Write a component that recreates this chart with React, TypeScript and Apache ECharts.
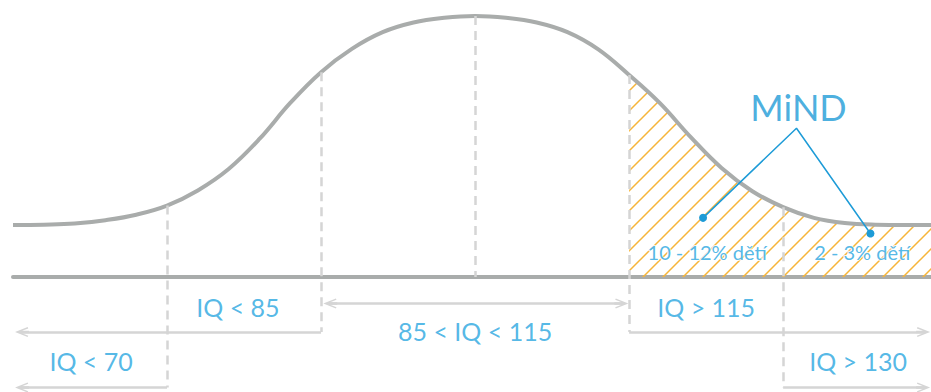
import React, { useEffect, useRef } from "react";
import * as echarts from "echarts";

// ---- Data ----
// Bell-shaped curve: IQ on x, relative height (peak = 100) on y
const curveIQ = [55, 58, 61, 64, 67, 70, 73, 76, 79, 82, 85, 88, 91, 94, 97, 100,
  103, 106, 109, 112, 115, 118, 121, 124, 127, 130, 133, 136, 139, 142, 144.4];
const curveLevel = [20.0, 20.1, 20.5, 21.8, 23.9, 27.4, 33.2, 41.4, 52.9, 66.7, 78.5, 87.4, 93.8, 97.5, 99.3, 100,
  99.3, 97.5, 93.8, 87.2, 77.4, 66.6, 53.6, 41.8, 32.9, 26.8, 22.7, 20.7, 20.1, 20.0, 20.0];
const hatchFromIQ = 115;

// Dashed guide lines (IQ thresholds) and how far below the baseline they reach
const guideIQ = [70, 85, 100, 115, 130];
const guideBottom = [-42.3, -21.06, 0, -21.06, -42.3];

// Range brackets (horizontal arrows)
const bracketFrom = [85, 70, 85.9, 115, 130];
const bracketTo = [55.88, 55.88, 114.25, 143.63, 143.63];
const bracketLevel = [-21.06, -42.3, -10.1, -21.06, -42.3];
const bracketBothEnds = [false, false, true, false, false];

// Range labels
const rangeNames = ["IQ < 70", "IQ < 85", "85 < IQ < 115", "IQ > 115", "IQ > 130"];
const rangeIQ = [62.6, 76.9, 100, 122.5, 137.3];
const rangeLevel = [-32.0, -11.3, -20.5, -11.5, -32.0];

// Share labels inside the hatched area
const shareNames = ["10 - 12% dětí", "2 - 3% dětí"];
const shareIQ = [122.6, 137.7];
const shareLevel = [9.8, 9.8];

// MiND callout
const calloutName = "MiND";
const calloutIQ = [131.5];
const calloutLevel = [65.0];
const pointerIQ = [122.2, 131.3, 138.5];
const pointerLevel = [22.7, 57.0, 16.7];

const GRAY = "#a9acab";
const LIGHT = "#d5d5d5";
const BLUE = "#29a6df";
const DARK_BLUE = "#1d9bd7";
const HATCH = "#f6b53a";
const FONT = "Lato";

const ARROW = "path://M5,0 L10,12.6 L8.7,13.2 L6.25,7 L6.25,14 L3.75,14 L3.75,7 L1.3,13.2 L0,12.6 Z";

function makeHatch(): HTMLCanvasElement {
  const t = 20;
  const c = document.createElement("canvas");
  c.width = t;
  c.height = t;
  const ctx = c.getContext("2d");
  if (ctx) {
    ctx.strokeStyle = HATCH;
    ctx.lineWidth = 1.5;
    ctx.beginPath();
    ctx.moveTo(-2, t + 2);
    ctx.lineTo(t + 2, -2);
    ctx.moveTo(-2, 2);
    ctx.lineTo(2, -2);
    ctx.moveTo(t - 2, t + 2);
    ctx.lineTo(t + 2, t - 2);
    ctx.stroke();
  }
  return c;
}

export default function App() {
  const ref = useRef<HTMLDivElement>(null);

  useEffect(() => {
    if (!ref.current) return;
    const chart = echarts.init(ref.current, null, { renderer: "svg" });

    const curveData = curveIQ.map((x, i) => [x, curveLevel[i]]);
    const hatchData = curveData.filter((p) => p[0] >= hatchFromIQ);
    const levelAt = (iq: number) => curveLevel[curveIQ.indexOf(iq)];

    const guideLines = guideIQ.map((iq, i) => [
      { coord: [iq, levelAt(iq)], symbol: "none" },
      { coord: [iq, guideBottom[i]], symbol: "none" },
    ]);
    const bracketLines = bracketFrom.map((from, i) => [
      {
        coord: [from, bracketLevel[i]],
        symbol: bracketBothEnds[i] ? ARROW : "none",
        lineStyle: { type: "solid", color: LIGHT, width: 2.5 },
      },
      { coord: [bracketTo[i], bracketLevel[i]], symbol: ARROW },
    ]);

    const textLabel = (size: number, color: string, border: boolean) => ({
      show: true,
      position: "inside",
      formatter: (p: any) => p.name,
      color,
      fontFamily: FONT,
      fontSize: size,
      fontWeight: "normal",
      align: "center",
      verticalAlign: "middle",
      ...(border ? { textBorderColor: "#ffffff", textBorderWidth: 2 } : {}),
    });

    chart.setOption({
      animation: false,
      grid: { left: 13, right: 0, top: 16, bottom: 0 },
      xAxis: {
        type: "value",
        min: 55,
        max: 144.4,
        axisLine: { show: true, onZero: true, lineStyle: { color: GRAY, width: 4 } },
        axisTick: { show: false },
        axisLabel: { show: false },
        splitLine: { show: false },
      },
      yAxis: { type: "value", min: -44, max: 100, show: false, splitLine: { show: false } },
      series: [
        {
          type: "line",
          name: "hatch",
          data: hatchData,
          smooth: 0.4,
          showSymbol: false,
          clip: false,
          lineStyle: { width: 0, opacity: 0 },
          areaStyle: { color: { image: makeHatch(), repeat: "repeat" }, opacity: 1, origin: 0 },
          z: 1,
          silent: true,
        },
        {
          type: "line",
          name: "guides",
          data: [],
          z: 2,
          silent: true,
          markLine: {
            silent: true,
            symbol: ["none", "none"],
            symbolSize: [10, 14],
            label: { show: false },
            lineStyle: { type: [9, 6], color: LIGHT, width: 2.5 },
            emphasis: { disabled: true },
            data: [...guideLines, ...bracketLines],
          },
        },
        {
          type: "line",
          name: "curve",
          data: curveData,
          smooth: 0.4,
          showSymbol: false,
          clip: false,
          lineStyle: { color: GRAY, width: 4 },
          z: 3,
          silent: true,
        },
        {
          type: "line",
          name: "pointer",
          data: pointerIQ.map((x, i) => ({
            value: [x, pointerLevel[i]],
            symbol: i === 1 ? "none" : "circle",
            symbolSize: 8,
          })),
          clip: false,
          showSymbol: true,
          lineStyle: { color: DARK_BLUE, width: 1.5 },
          itemStyle: { color: DARK_BLUE },
          z: 5,
          silent: true,
        },
        {
          type: "scatter",
          name: "ranges",
          symbolSize: 0,
          clip: false,
          data: rangeNames.map((n, i) => ({ name: n, value: [rangeIQ[i], rangeLevel[i]] })),
          label: textLabel(25, BLUE, false),
          z: 6,
          silent: true,
        },
        {
          type: "scatter",
          name: "shares",
          symbolSize: 0,
          clip: false,
          data: shareNames.map((n, i) => ({ name: n, value: [shareIQ[i], shareLevel[i]] })),
          label: textLabel(20, BLUE, true),
          z: 6,
          silent: true,
        },
        {
          type: "scatter",
          name: "callout",
          symbolSize: 0,
          clip: false,
          data: calloutIQ.map((x, i) => ({ name: calloutName, value: [x, calloutLevel[i]] })),
          label: textLabel(36, DARK_BLUE, false),
          z: 6,
          silent: true,
        },
      ],
    });

    return () => chart.dispose();
  }, []);

  return (
    <div
      ref={ref}
      style={{ position: "fixed", left: 0, top: 0, width: 931, height: 392, background: "#ffffff" }}
    />
  );
}
